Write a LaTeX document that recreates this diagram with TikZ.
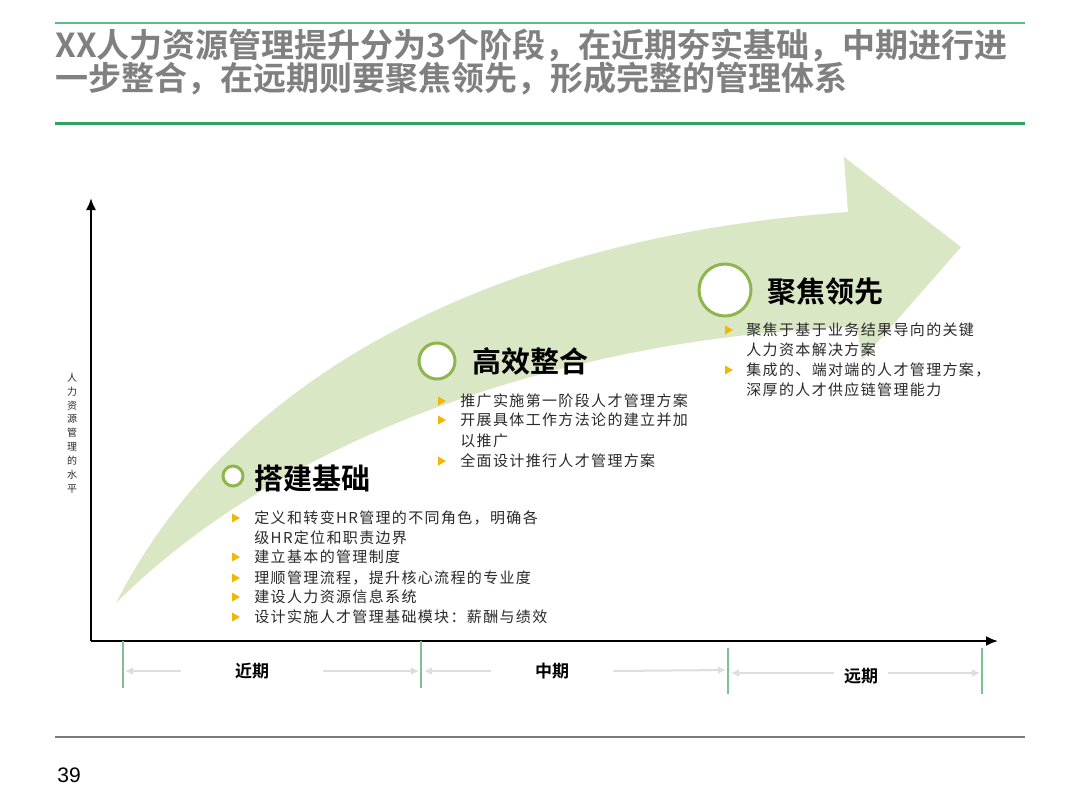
\documentclass[tikz,border=0pt]{standalone}
\usepackage{fontspec}
\setmainfont{Noto Sans CJK SC}
\newfontfamily\cjkreg{Noto Sans CJK SC}[LetterSpace=9]
\newfontfamily\cjkbold{Noto Sans CJK SC Bold}
\newfontfamily\numfont{Liberation Sans}
\usetikzlibrary{arrows.meta}
\definecolor{topgreen}{HTML}{5DBE82}
\definecolor{midgreen}{HTML}{2FA25C}
\definecolor{titlegray}{HTML}{808080}
\definecolor{arrowfill}{HTML}{DAE7C5}
\definecolor{ringgreen}{HTML}{8DB64C}
\definecolor{bulletyellow}{HTML}{F2B705}
\definecolor{bodyblack}{HTML}{2A2A2A}
\definecolor{arrowgray}{HTML}{DCDFDC}
\definecolor{tickgreen}{HTML}{7CC48F}
\definecolor{footgray}{HTML}{7A7A7A}
\begin{document}
\begin{tikzpicture}[x=0.5pt,y=-0.5pt,
  titletxt/.style={anchor=west,inner sep=0pt,font=\cjkbold\fontsize{16.5}{18}\selectfont,text=titlegray},
  bodytxt/.style={anchor=west,inner sep=0pt,font=\cjkreg\fontsize{7.5}{8.5}\selectfont,text=bodyblack},
  headtxt/.style={anchor=west,inner sep=0pt,font=\cjkbold\fontsize{14.5}{16}\selectfont,text=black},
  ring/.style={circle,draw=ringgreen,line width=1.5pt,fill=white,inner sep=0pt},
  bul/.pic={\fill[bulletyellow] (-4,-4.5) -- (4,0) -- (-4,4.5) -- cycle;},
  periodlbl/.style={font=\cjkbold\fontsize{8.5}{10}\selectfont,inner ysep=0pt,text=black},
  parr/.style={draw=arrowgray,line width=1pt,-{Latex[length=4pt,width=4pt]}},
  tickline/.style={draw=tickgreen,line width=0.6pt},
  axisline/.style={draw=black,line width=1pt,-{Latex[length=6pt,width=5pt]}},
]
\useasboundingbox[fill=white] (0,0) rectangle (1080,810);

% header and footer rules
\draw[topgreen,line width=1pt] (55,23) -- (1025,23);
\draw[midgreen,line width=1.5pt] (55,123) -- (1025,123);
\draw[footgray,line width=1pt] (55,737) -- (1025,737);

% title
\node[titletxt] (title1) at (55,46) {XX人力资源管理提升分为3个阶段，在近期夯实基础，中期进行进};
\node[titletxt] (title2) at (55,79) {一步整合，在远期则要聚焦领先，形成完整的管理体系};

% big curved arrow
\fill[arrowfill] (116,603) .. controls (240,360) and (520,235) .. (848,212)
  -- (844,157) -- (961,247) -- (862,360) -- (857,327)
  .. controls (600,335) and (300,420) .. (116,603) -- cycle;

% axes
\coordinate (origin) at (91,641);
\coordinate (ytop) at (91,198);
\coordinate (xend) at (998,641);
\draw[axisline] (origin) -- (ytop);
\draw[axisline] (origin) -- (xend);

% y-axis label
\node[align=center,inner sep=0pt,font=\cjkreg\fontsize{5}{6.95}\selectfont,text=bodyblack] (ylabel) at (72,433)
  {人\\力\\资\\源\\管\\理\\的\\水\\平};

% stage 1
\node[ring,minimum size=10pt] (ring1) at (233,476) {};
\node[headtxt] (head1) at (254,478) {搭建基础};
\pic at (236,518) {bul};
\node[bodytxt] (s1a) at (254,518) {定义和转变HR管理的不同角色，明确各};
\node[bodytxt] (s1b) at (254,538) {级HR定位和职责边界};
\pic at (236,557) {bul};
\node[bodytxt] (s1c) at (254,557) {建立基本的管理制度};
\pic at (236,578) {bul};
\node[bodytxt] (s1d) at (254,578) {理顺管理流程，提升核心流程的专业度};
\pic at (236,597) {bul};
\node[bodytxt] (s1e) at (254,597) {建设人力资源信息系统};
\pic at (236,617) {bul};
\node[bodytxt] (s1f) at (254,617) {设计实施人才管理基础模块：薪酬与绩效};

% stage 2
\node[ring,minimum size=18pt] (ring2) at (437,361) {};
\node[headtxt] (head2) at (472,361) {高效整合};
\pic at (442,401) {bul};
\node[bodytxt] (s2a) at (460,401) {推广实施第一阶段人才管理方案};
\pic at (442,420) {bul};
\node[bodytxt] (s2b) at (460,420) {开展具体工作方法论的建立并加};
\node[bodytxt] (s2c) at (460,441) {以推广};
\pic at (442,461) {bul};
\node[bodytxt] (s2d) at (460,461) {全面设计推行人才管理方案};

% stage 3
\node[ring,minimum size=26pt] (ring3) at (725,290) {};
\node[headtxt] (head3) at (767,291) {聚焦领先};
\pic at (729,330) {bul};
\node[bodytxt] (s3a) at (746,330) {聚焦于基于业务结果导向的关键};
\node[bodytxt] (s3b) at (746,350) {人力资本解决方案};
\pic at (729,370) {bul};
\node[bodytxt] (s3c) at (746,370) {集成的、端对端的人才管理方案，};
\node[bodytxt] (s3d) at (746,390) {深厚的人才供应链管理能力};

% period ticks
\draw[tickline] (123,641) -- (123,688);
\draw[tickline] (421,641) -- (421,688);
\draw[tickline] (728,648) -- (728,694);
\draw[tickline] (982,648) -- (982,694);

% period labels and arrows
\node[periodlbl,inner xsep=27pt] (near) at (252,671) {近期};
\coordinate (nearL) at (125,671);
\coordinate (nearR) at (419,671);
\draw[parr] (near.west) -- (nearL);
\draw[parr] (near.east) -- (nearR);

\node[periodlbl,inner xsep=22pt] (mid) at (552,671) {中期};
\coordinate (midL) at (424,671);
\coordinate (midR) at (726,670);
\draw[parr] (mid.west) -- (midL);
\draw[parr] (mid.east) -- (midR);

\node[periodlbl,inner xsep=5pt] (far) at (861,676) {远期};
\coordinate (farL) at (731,673);
\coordinate (farR) at (980,673);
\draw[parr] (far.west |- farL) -- (farL);
\draw[parr] (far.east |- farR) -- (farR);

% page number
\node[anchor=west,inner sep=0pt,font=\numfont\fontsize{10.5}{12}\selectfont] (page) at (57,775) {39};
\end{tikzpicture}
\end{document}
